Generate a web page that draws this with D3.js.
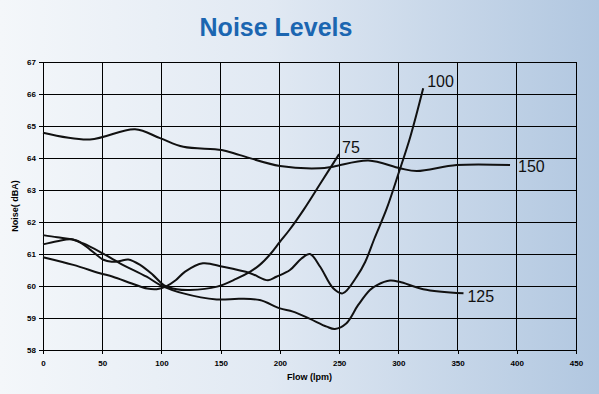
<!DOCTYPE html>
<html>
<head>
<meta charset="utf-8">
<script src="https://cdn.jsdelivr.net/npm/d3@7"></script>
<style>
html,body{margin:0;padding:0;background:#fff;}
svg{display:block;}
</style>
</head>
<body>
<div id="chart"></div>
<script>
const chartTitle = "Noise Levels";
const xTitle = "Flow (lpm)";
const yTitle = "Noise( dBA)";
const xTicks = [0,50,100,150,200,250,300,350,400,450];
const yTicks = [58,59,60,61,62,63,64,65,66,67];

const seriesNames = ["75","100","125","150"];

const flow75  = [0,12,24,32,40,51,58,65,72,82,93,102,113,124,147,163,175,183,192,200,208,220,235,250];
const noise75 = [61.59,61.52,61.46,61.35,61.13,60.82,60.76,60.78,60.83,60.66,60.34,60.03,59.9,59.875,59.98,60.22,60.45,60.66,61.0,61.38,61.75,62.38,63.25,64.12];

const flow100  = [0,25.6,48,59,75,88,96,104,112,120,135,152,175,190,197,208.5,218,225.4,234,245,253,265,272,280,290,300,310,321];
const noise100 = [60.9,60.66,60.4,60.29,60.08,59.92,59.9,59.99,60.18,60.45,60.71,60.6,60.4,60.18,60.29,60.5,60.85,61.0,60.6,59.93,59.77,60.3,60.75,61.5,62.4,63.5,64.65,66.18];

const flow125  = [0,12,24,34,48,65,87.5,99,118.5,146.6,166,183,200,211,225,239.5,246.5,256,266,276,282,293,301,321,355];
const noise125 = [61.3,61.4,61.46,61.33,61.07,60.71,60.29,60.03,59.77,59.58,59.6,59.56,59.3,59.2,58.98,58.73,58.66,58.83,59.4,59.875,60.03,60.17,60.13,59.9,59.77];

const flow150  = [0,39.7,77.7,98.8,118.5,150.9,166.3,200.1,233.9,245,274.7,301.4,315.5,349.3,394.3];
const noise150 = [64.79,64.58,64.9,64.62,64.35,64.25,64.09,63.75,63.68,63.73,63.92,63.68,63.59,63.78,63.78];

const W = 599, H = 394;
const margin = {left:43, right:23, top:62, bottom:44};
const iw = W - margin.left - margin.right;
const ih = H - margin.top - margin.bottom;

const svg = d3.select("#chart").append("svg").attr("width", W).attr("height", H);
const defs = svg.append("defs");
const grad = defs.append("linearGradient").attr("id","bg").attr("x1","0%").attr("x2","100%").attr("y1","0%").attr("y2","0%");
grad.append("stop").attr("offset","0%").attr("stop-color","#f4f7fa");
grad.append("stop").attr("offset","45%").attr("stop-color","#e1e9f3");
grad.append("stop").attr("offset","100%").attr("stop-color","#b1c7e0");
svg.append("rect").attr("width",W).attr("height",H).attr("fill","url(#bg)");

svg.append("text").attr("x",276).attr("y",36).attr("text-anchor","middle")
  .attr("font-family","Liberation Sans, Arial, sans-serif").attr("font-weight","bold")
  .attr("font-size",25).attr("fill","#1b66b1").text(chartTitle);

const x = d3.scaleLinear().domain([0,450]).range([0,iw]);
const y = d3.scaleLinear().domain([58,67]).range([ih,0]);

const g = svg.append("g").attr("transform",`translate(${margin.left},${margin.top})`);

// grid
g.append("g").selectAll("line").data(xTicks).join("line")
  .attr("x1",d=>x(d)).attr("x2",d=>x(d)).attr("y1",0).attr("y2",ih)
  .attr("stroke","#000").attr("stroke-width",1).attr("shape-rendering","crispEdges");
g.append("g").selectAll("line").data(yTicks).join("line")
  .attr("y1",d=>y(d)).attr("y2",d=>y(d)).attr("x1",0).attr("x2",iw)
  .attr("stroke","#000").attr("stroke-width",1).attr("shape-rendering","crispEdges");

const xAxis = g.append("g").attr("transform",`translate(0,${ih})`)
  .call(d3.axisBottom(x).tickValues(xTicks).tickSize(4).tickPadding(6).tickFormat(d3.format("d")));
const yAxis = g.append("g")
  .call(d3.axisLeft(y).tickValues(yTicks).tickSize(4).tickPadding(3).tickFormat(d3.format("d")));
[xAxis,yAxis].forEach(a=>{
  a.selectAll("text").attr("font-family","Liberation Sans, Arial, sans-serif").attr("font-weight","bold").attr("font-size",8).attr("fill","#000");
  a.selectAll("line,path").attr("stroke","#000").attr("shape-rendering","crispEdges");
});

svg.append("text").attr("x",margin.left+iw/2).attr("y",380).attr("text-anchor","middle")
  .attr("font-family","Liberation Sans, Arial, sans-serif").attr("font-weight","bold").attr("font-size",9).text(xTitle);
svg.append("text").attr("transform",`translate(18,206) rotate(-90)`).attr("text-anchor","middle")
  .attr("font-family","Liberation Sans, Arial, sans-serif").attr("font-weight","bold").attr("font-size",9).text(yTitle);

const allSeries = [
  {name:seriesNames[0], fx:flow75, ny:noise75, dx:3, dy:-1},
  {name:seriesNames[1], fx:flow100, ny:noise100, dx:4, dy:-1},
  {name:seriesNames[2], fx:flow125, ny:noise125, dx:4, dy:9},
  {name:seriesNames[3], fx:flow150, ny:noise150, dx:8, dy:7}
];

const line = d3.line().x(d=>x(d[0])).y(d=>y(d[1])).curve(d3.curveCatmullRom.alpha(0.5));

allSeries.forEach(s=>{
  const pts = s.fx.map((f,i)=>[f,s.ny[i]]);
  g.append("path").datum(pts).attr("d",line).attr("fill","none")
    .attr("stroke","#111").attr("stroke-width",2);
  const last = pts[pts.length-1];
  g.append("text").attr("x",x(last[0])+s.dx).attr("y",y(last[1])+s.dy)
    .attr("font-family","Liberation Sans, Arial, sans-serif").attr("font-size",16)
    .attr("fill","#111").text(s.name);
});
</script>
</body>
</html>
